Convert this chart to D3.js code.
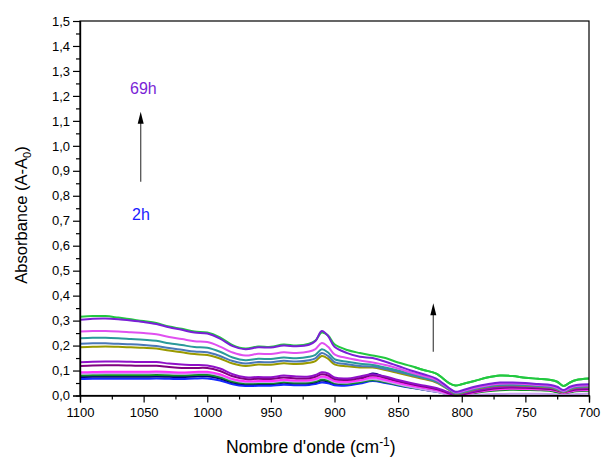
<!DOCTYPE html>
<html><head><meta charset="utf-8">
<script src="https://cdn.jsdelivr.net/npm/d3@7"></script>
<style>body{margin:0;background:#fff}svg{display:block}text{font-family:"Liberation Sans",Arial,sans-serif}</style>
</head><body>
<svg id="c" width="603" height="460"></svg>
<script>
const wavenumbers = [1100,1090,1080,1070,1060,1050,1040,1030,1020,1010,1000,990,980,970,960,950,940,930,920,915,910,905,900,890,880,870,860,850,840,830,820,810,805,800,790,780,770,760,750,740,730,725,720,715,710,700];

const sGreenTop = [0.315,0.318,0.318,0.312,0.305,0.298,0.290,0.276,0.267,0.256,0.252,0.233,0.202,0.188,0.196,0.195,0.204,0.200,0.207,0.220,0.252,0.240,0.205,0.182,0.170,0.160,0.150,0.132,0.118,0.102,0.088,0.050,0.040,0.045,0.058,0.072,0.080,0.078,0.071,0.067,0.062,0.055,0.038,0.052,0.062,0.068];
const sPurpleTop = [0.303,0.307,0.308,0.305,0.300,0.294,0.286,0.273,0.263,0.252,0.248,0.228,0.198,0.185,0.193,0.192,0.200,0.197,0.203,0.218,0.258,0.238,0.195,0.170,0.155,0.150,0.135,0.118,0.100,0.085,0.068,0.030,0.015,0.020,0.035,0.045,0.052,0.052,0.050,0.046,0.042,0.035,0.022,0.035,0.042,0.045];
const sViolet = [0.256,0.258,0.258,0.256,0.253,0.250,0.245,0.234,0.226,0.217,0.214,0.196,0.172,0.160,0.167,0.166,0.173,0.170,0.176,0.186,0.210,0.195,0.165,0.150,0.140,0.132,0.122,0.108,0.092,0.078,0.062,0.028,0.012,0.016,0.030,0.040,0.047,0.048,0.046,0.042,0.038,0.030,0.018,0.030,0.038,0.040];
const sTeal = [0.229,0.231,0.231,0.229,0.226,0.223,0.219,0.209,0.202,0.194,0.191,0.175,0.152,0.141,0.147,0.146,0.152,0.149,0.155,0.163,0.185,0.172,0.146,0.135,0.127,0.122,0.112,0.100,0.086,0.073,0.058,0.026,0.010,0.014,0.028,0.038,0.044,0.045,0.043,0.040,0.036,0.028,0.016,0.028,0.036,0.038];
const sSteel = [0.207,0.209,0.209,0.207,0.205,0.202,0.198,0.190,0.183,0.176,0.173,0.158,0.138,0.128,0.134,0.133,0.139,0.136,0.141,0.149,0.170,0.158,0.134,0.125,0.118,0.116,0.106,0.095,0.082,0.070,0.055,0.024,0.008,0.012,0.026,0.036,0.042,0.043,0.041,0.038,0.034,0.026,0.015,0.026,0.034,0.036];
const sOlive = [0.193,0.195,0.196,0.195,0.193,0.191,0.188,0.180,0.173,0.166,0.162,0.148,0.128,0.118,0.124,0.123,0.129,0.126,0.131,0.138,0.158,0.147,0.125,0.117,0.112,0.112,0.102,0.090,0.078,0.066,0.052,0.022,0.006,0.010,0.024,0.034,0.040,0.041,0.039,0.036,0.032,0.024,0.013,0.024,0.032,0.034];
const sPurpleLow = [0.133,0.135,0.136,0.136,0.135,0.134,0.134,0.128,0.124,0.122,0.120,0.108,0.085,0.073,0.074,0.073,0.080,0.076,0.076,0.082,0.093,0.088,0.072,0.068,0.076,0.085,0.076,0.062,0.050,0.040,0.030,0.012,0.003,0.006,0.018,0.028,0.034,0.036,0.035,0.033,0.030,0.024,0.016,0.022,0.028,0.030];
const sDarkPurple = [0.118,0.120,0.121,0.121,0.120,0.119,0.119,0.114,0.110,0.110,0.110,0.098,0.077,0.066,0.067,0.066,0.072,0.068,0.069,0.075,0.085,0.080,0.066,0.062,0.070,0.080,0.071,0.058,0.046,0.036,0.026,0.009,0.001,0.004,0.015,0.024,0.030,0.032,0.031,0.029,0.026,0.020,0.013,0.019,0.024,0.026];
const sMagenta = [0.093,0.094,0.095,0.095,0.095,0.095,0.096,0.094,0.092,0.094,0.095,0.085,0.066,0.057,0.058,0.058,0.063,0.060,0.061,0.066,0.076,0.071,0.058,0.055,0.062,0.072,0.063,0.051,0.040,0.031,0.022,0.006,0.000,0.002,0.012,0.020,0.025,0.027,0.026,0.024,0.022,0.017,0.010,0.015,0.020,0.022];
const sLavender = [0.088,0.089,0.090,0.090,0.090,0.090,0.091,0.089,0.087,0.089,0.090,0.080,0.062,0.053,0.054,0.054,0.059,0.056,0.057,0.062,0.071,0.066,0.054,0.051,0.058,0.066,0.057,0.045,0.034,0.024,0.015,0.003,0.000,0.000,0.002,0.005,0.006,0.007,0.007,0.007,0.006,0.004,0.002,0.004,0.006,0.008];
const sGreenLow = [0.080,0.081,0.081,0.081,0.081,0.081,0.082,0.081,0.080,0.082,0.083,0.073,0.056,0.048,0.049,0.049,0.054,0.051,0.052,0.056,0.064,0.060,0.050,0.047,0.053,0.061,0.053,0.042,0.032,0.024,0.016,0.004,0.000,0.002,0.010,0.017,0.021,0.023,0.022,0.021,0.018,0.012,0.006,0.012,0.017,0.019];
const sNavy = [0.074,0.075,0.075,0.075,0.075,0.075,0.076,0.075,0.074,0.076,0.077,0.068,0.052,0.045,0.046,0.046,0.051,0.048,0.049,0.053,0.060,0.056,0.048,0.048,0.062,0.088,0.072,0.055,0.042,0.032,0.022,0.008,0.002,0.006,0.018,0.028,0.034,0.036,0.036,0.035,0.033,0.026,0.018,0.024,0.030,0.032];
const sBlue = [0.066,0.067,0.067,0.067,0.067,0.067,0.068,0.067,0.066,0.068,0.068,0.060,0.045,0.038,0.039,0.039,0.043,0.041,0.042,0.046,0.052,0.049,0.041,0.040,0.048,0.058,0.050,0.040,0.031,0.023,0.015,0.004,0.000,0.004,0.013,0.020,0.024,0.026,0.026,0.025,0.023,0.018,0.012,0.018,0.022,0.024];

// drawing order: bottom first
const seriesList = [
  {v:sBlue,c:"#1428ff"},{v:sNavy,c:"#000080"},{v:sGreenLow,c:"#109020"},{v:sLavender,c:"#c8a0f0"},
  {v:sMagenta,c:"#ff30ff"},{v:sDarkPurple,c:"#800080"},{v:sPurpleLow,c:"#9010c8"},
  {v:sOlive,c:"#999900"},{v:sSteel,c:"#4a78b8"},{v:sTeal,c:"#2a9a9a"},{v:sViolet,c:"#e050f0"},
  {v:sGreenTop,c:"#22c840"},{v:sPurpleTop,c:"#7a1fd6"}
];

const xTicks = [1100,1050,1000,950,900,850,800,750,700];
const yTicks = [0,0.1,0.2,0.3,0.4,0.5,0.6,0.7,0.8,0.9,1.0,1.1,1.2,1.3,1.4,1.5];

const L=80,R=589,T=21,B=395.5;
const svg=d3.select("#c");
const x=d3.scaleLinear().domain([1100,700]).range([L,R]);
const y=d3.scaleLinear().domain([0,1.5]).range([B,T]);

svg.append("clipPath").attr("id","clip").append("rect").attr("x",L).attr("y",T).attr("width",R-L).attr("height",B-T+1);
const g=svg.append("g").attr("clip-path","url(#clip)");
const line=d3.line().x((d,i)=>x(wavenumbers[i])).y(d=>y(d)).curve(d3.curveCatmullRom.alpha(0.5));
seriesList.forEach((s,i)=>{
  g.append("path").attr("d",line(s.v)).attr("fill","none").attr("stroke",s.c).attr("stroke-width",2).attr("stroke-linejoin","round");
});
// green top drawn on top only after the peak region so it shows above purple on the right
g.append("path").attr("d",line(sGreenTop)).attr("fill","none").attr("stroke","#22c840").attr("stroke-width",2)
  .attr("clip-path",null).style("clip-path",`inset(0 0 0 ${x(900)-0}px)`);

// frame
svg.append("rect").attr("x",L).attr("y",T).attr("width",R-L).attr("height",B-T).attr("fill","none").attr("stroke","#000").attr("stroke-width",1.2);

// axes
const fmt=d=>d3.format(".1f")(d).replace(".",",");
const yAx=svg.append("g").attr("transform",`translate(${L},0)`)
  .call(d3.axisLeft(y).tickValues(yTicks).tickFormat(fmt).tickSize(7).tickPadding(3));
const yMin=svg.append("g").attr("transform",`translate(${L},0)`)
  .call(d3.axisLeft(y).tickValues(d3.range(0.05,1.5,0.1)).tickFormat("").tickSize(4));
const xAx=svg.append("g").attr("transform",`translate(0,${B})`)
  .call(d3.axisBottom(x).tickValues(xTicks).tickFormat(d3.format("d")).tickSize(7).tickPadding(5));
const xMin=svg.append("g").attr("transform",`translate(0,${B})`)
  .call(d3.axisBottom(x).tickValues([1075,1025,975,925,875,825,775,725]).tickFormat("").tickSize(4));
[yAx,yMin,xAx,xMin].forEach(a=>{a.select(".domain").attr("stroke","#000").attr("stroke-width",1.2);a.selectAll("line").attr("stroke","#000").attr("stroke-width",1.2);});
svg.selectAll(".tick text").attr("font-size",13).attr("fill","#000").attr("font-family","Liberation Sans, Arial, sans-serif");

// axis labels
const xl=svg.append("text").attr("x",226).attr("y",453).attr("font-size",17.5).attr("fill","#000");
xl.append("tspan").text("Nombre d'onde (cm");
xl.append("tspan").text("-1").attr("font-size",12).attr("dy",-7);
xl.append("tspan").text(")").attr("dy",7);

const yl=svg.append("text").attr("transform","translate(27,215) rotate(-90)").attr("text-anchor","middle").attr("font-size",16.5).attr("fill","#000");
yl.append("tspan").text("Absorbance (A-A");
yl.append("tspan").text("0").attr("font-size",11).attr("dy",4);
yl.append("tspan").text(")").attr("dy",-4);

// annotations
svg.append("text").attr("x",130).attr("y",94).attr("font-size",16).attr("fill","#7a1fd6").text("69h");
svg.append("text").attr("x",132).attr("y",220).attr("font-size",16).attr("fill","#1a1aff").text("2h");
function arrow(xp,y0,y1){
  svg.append("line").attr("x1",xp).attr("x2",xp).attr("y1",y0).attr("y2",y1+10).attr("stroke","#555").attr("stroke-width",1.3);
  svg.append("path").attr("d",`M${xp},${y1} L${xp-3},${y1+12} L${xp+3},${y1+12} Z`).attr("fill","#000");
}
arrow(140.7,181.7,111.7);
arrow(433.3,351.7,303.3);
</script>
</body></html>
